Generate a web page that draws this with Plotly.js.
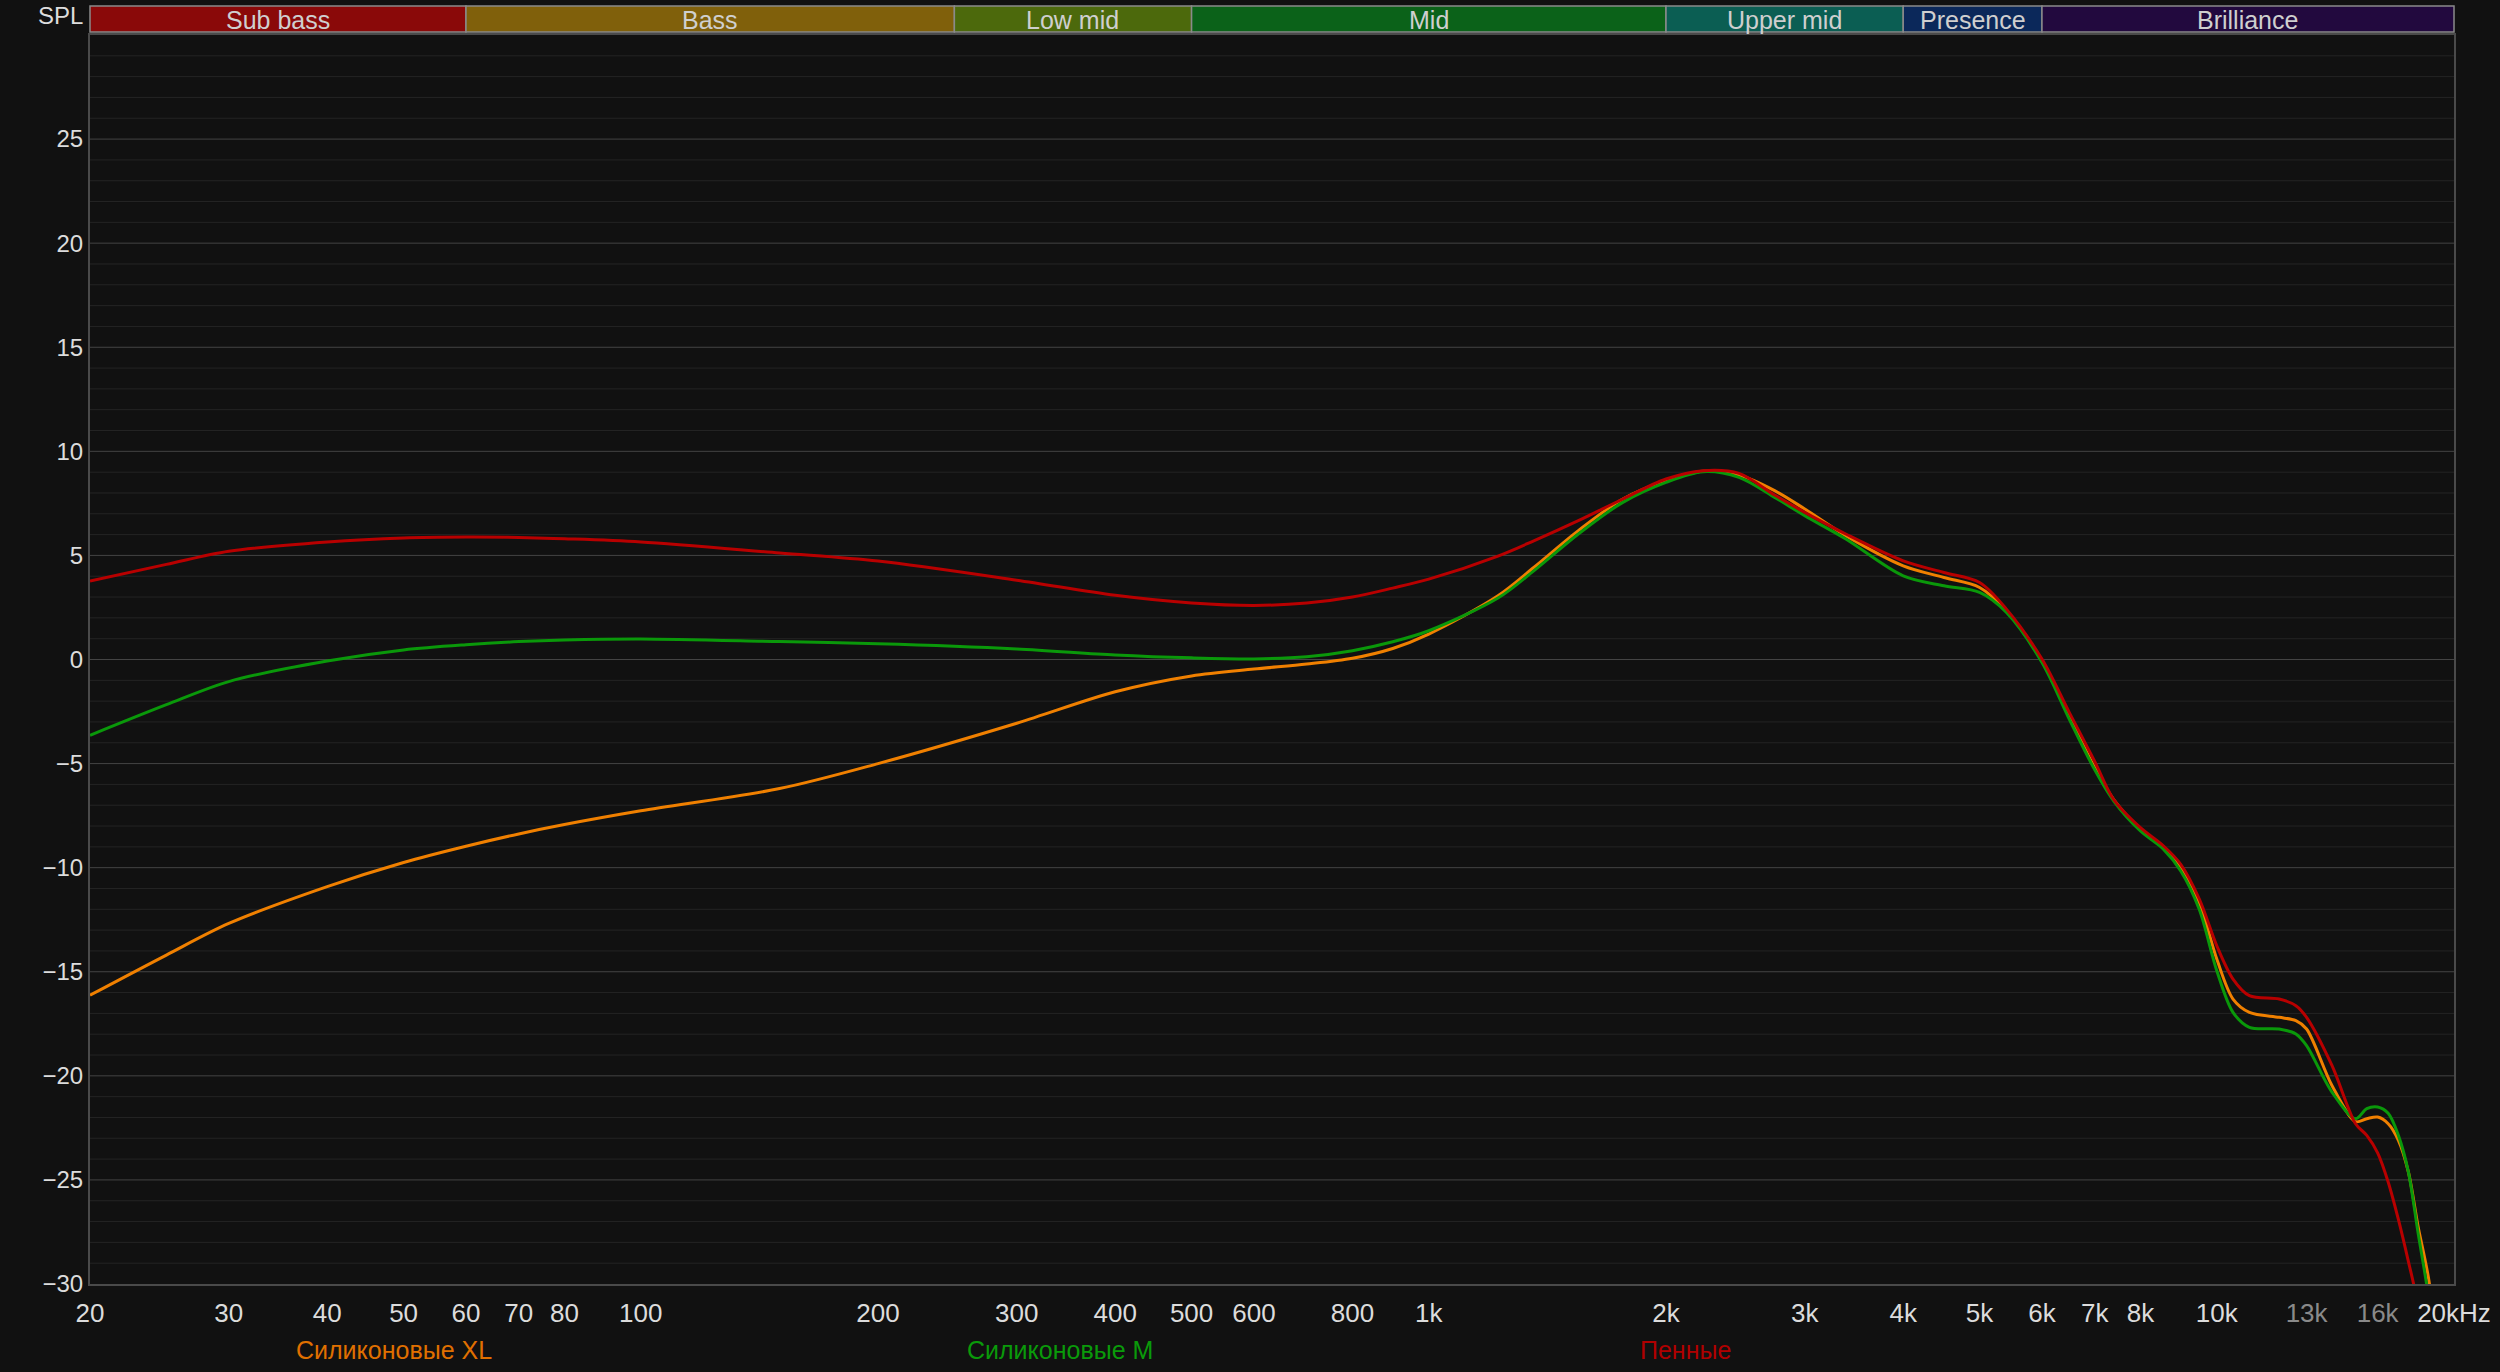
<!DOCTYPE html>
<html>
<head>
<meta charset="utf-8">
<script src="https://cdn.plot.ly/plotly-3.0.1.min.js"></script>
<style>
  html, body { margin: 0; padding: 0; background: #111111; }
  #chart { width: 2500px; height: 1372px; }
</style>
</head>
<body>
<div id="chart"></div>
<script>
// ---- Data ----
const freqs = [20, 25, 30, 40, 50, 60, 70, 80, 100, 150, 200, 300, 400, 500, 600, 700, 800, 900, 1000,
  1224, 1359, 1548, 1763, 2000, 2229, 2475, 2747, 3000, 3382, 4000, 4506, 5000, 5408, 6000, 6500, 7000, 7400,
  8000, 8560, 9000, 9500, 10000, 10485, 11000, 12000, 12600, 13000, 14000, 15000, 15500, 16000, 16500, 17000,
  17500, 18000, 18600, 20000];

const siliconeXL = [-16.13, -14.2, -12.68, -10.91, -9.75, -8.97, -8.38, -7.93, -7.27, -6.2, -5.0, -3.06, -1.55,
  -0.79, -0.46, -0.22, 0.06, 0.53, 1.22, 3.06, 4.42, 6.19, 7.71, 8.59, 9.04, 8.86, 8.11, 7.23, 5.95, 4.5, 3.94, 3.46,
  2.34, -0.06, -2.7, -5.2, -6.73, -8.16, -9.04, -10.0, -11.68, -14.39, -16.31, -16.95, -17.19, -17.35, -17.75,
  -20.46, -22.2, -22.06, -21.98, -22.3, -23.1, -24.6, -27.2, -29.9, -40];

const siliconeM = [-3.64, -2.17, -1.06, -0.07, 0.46, 0.71, 0.86, 0.94, 0.99, 0.86, 0.76, 0.51, 0.22, 0.08, 0.03,
  0.13, 0.42, 0.85, 1.38, 2.95, 4.26, 6.03, 7.55, 8.51, 9.02, 8.75, 7.79, 6.91, 5.79, 4.02, 3.54, 3.22, 2.26, -0.14,
  -2.87, -5.3, -6.8, -8.24, -9.12, -10.16, -12.0, -14.95, -16.95, -17.67, -17.75, -17.99, -18.55, -20.78, -22.06,
  -21.58, -21.5, -21.8, -22.86, -24.6, -27.5, -30.8, -40];

const foam = [3.77, 4.57, 5.2, 5.65, 5.84, 5.88, 5.86, 5.8, 5.65, 5.12, 4.73, 3.81, 3.09, 2.72, 2.6, 2.71, 3.0,
  3.43, 3.86, 4.97, 5.7, 6.67, 7.71, 8.67, 9.07, 8.94, 7.9, 7.07, 6.03, 4.74, 4.18, 3.7, 2.42, 0.02, -2.55, -4.9,
  -6.73, -8.08, -8.96, -9.84, -11.5, -13.75, -15.35, -16.15, -16.31, -16.63, -17.19, -19.5, -22.3, -22.86, -23.7,
  -25.1, -26.9, -28.9, -31.0, -35, -45];

const seriesNames = ['Силиконовые XL', 'Силиконовые M', 'Пенные'];
const seriesColors = ['#f08000', '#0a980a', '#b80000'];
const legendColors = ['#e07000', '#0a9a0a', '#b00000'];

const xTickVals = [20, 30, 40, 50, 60, 70, 80, 100, 200, 300, 400, 500, 600, 800, 1000, 2000, 3000, 4000, 5000,
  6000, 7000, 8000, 10000, 13000, 16000, 20000];
const xTickText = ['20', '30', '40', '50', '60', '70', '80', '100', '200', '300', '400', '500', '600', '800', '1k',
  '2k', '3k', '4k', '5k', '6k', '7k', '8k', '10k', '<span style="color:#8a8a8a">13k</span>',
  '<span style="color:#8a8a8a">16k</span>', '20kHz'];
const yTickVals = [-30, -25, -20, -15, -10, -5, 0, 5, 10, 15, 20, 25];

const bandNames = ['Sub bass', 'Bass', 'Low mid', 'Mid', 'Upper mid', 'Presence', 'Brilliance'];
const bandEdges = [20, 60, 250, 500, 2000, 4000, 6000, 20000];
const bandColors = ['#8a0909', '#80600b', '#4c690c', '#0b6219', '#0b5e53', '#0b285a', '#22093e'];

// ---- Geometry ----
const W = 2500, H = 1372;
const M = {l: 90, r: 46, t: 35, b: 88};
const plotH = H - M.t - M.b;
const plotW = W - M.l - M.r;
const bottomPx = H - M.b;
const pyPaper = p => (bottomPx - p) / plotH;
const pxPaper = p => (p - M.l) / plotW;
const L = Math.log10;
const fPaper = f => (L(f) - L(20)) / (L(20000) - L(20));

// ---- Grid shapes ----
const shapes = [];
function vline(f, color) {
  shapes.push({type: 'line', layer: 'below', xref: 'x', yref: 'paper', x0: L(f), x1: L(f), y0: 0, y1: 1,
    line: {color: color, width: 1}});
}
function hline(v, color) {
  shapes.push({type: 'line', layer: 'below', xref: 'paper', yref: 'y', x0: 0, x1: 1, y0: v, y1: v,
    line: {color: color, width: 1}});
}
for (let v = -29; v < 30; v++) if (v % 5 !== 0) hline(v, '#242424');
for (let v = -25; v < 30; v += 5) hline(v, '#444444');
const normalV = [], dimV = [], brightV = [100, 1000, 10000];
for (let d = 1; d <= 100; d *= 10) {
  for (let k = (d === 1 ? 3 : 2); k <= 9; k++) normalV.push(k * 10 * d);
}
for (let k = 11; k <= 19; k++) dimV.push(k * 1000);
dimV.forEach(f => vline(f, '#2b2b2b'));
normalV.forEach(f => vline(f, '#3e3e3e'));
brightV.forEach(f => vline(f, '#7a7a7a'));

// ---- Frequency bands on top (paper coords so they are not clipped) ----
const bandY0 = pyPaper(32), bandY1 = pyPaper(6);
const annotations = [];
for (let i = 0; i < bandNames.length; i++) {
  shapes.push({type: 'rect', layer: 'above', xref: 'paper', yref: 'paper',
    x0: fPaper(bandEdges[i]), x1: fPaper(bandEdges[i + 1]), y0: bandY0, y1: bandY1,
    fillcolor: bandColors[i], line: {color: '#8a8a8a', width: 1.5}});
}
for (let i = 0; i < bandNames.length; i++) {
  annotations.push({xref: 'paper', yref: 'paper', x: (fPaper(bandEdges[i]) + fPaper(bandEdges[i + 1])) / 2,
    y: pyPaper(20), yanchor: 'middle', xanchor: 'center', showarrow: false, text: bandNames[i],
    font: {family: 'Liberation Sans Narrow, Arial Narrow, Liberation Sans, sans-serif', size: 25, color: '#cfcfcf'}});
}
annotations.push({xref: 'paper', yref: 'paper', x: pxPaper(85), y: pyPaper(15), xanchor: 'right', yanchor: 'middle',
  showarrow: false, text: 'SPL', font: {family: 'Liberation Sans, Arial, sans-serif', size: 24, color: '#dddddd'}});

// ---- Legend as colored labels under the axis ----
const legendX = [394, 1060, 1685];
for (let i = 0; i < 3; i++) {
  annotations.push({xref: 'paper', yref: 'paper', x: pxPaper(legendX[i]), y: pyPaper(1350), xanchor: 'center',
    yanchor: 'middle', showarrow: false, text: seriesNames[i],
    font: {family: 'Liberation Sans Narrow, Arial Narrow, Liberation Sans, sans-serif', size: 25, color: legendColors[i]}});
}

const ys = [siliconeXL, siliconeM, foam];
const traces = ys.map((y, i) => ({
  type: 'scatter', mode: 'lines', x: freqs, y: y, name: seriesNames[i], showlegend: false,
  line: {color: seriesColors[i], width: 3, shape: 'spline', smoothing: 0.9}
}));

const layout = {
  width: W, height: H,
  paper_bgcolor: '#111111', plot_bgcolor: '#111111',
  margin: M,
  showlegend: false,
  xaxis: {type: 'log', range: [L(20), L(20000)], tickmode: 'array', tickvals: xTickVals, ticktext: xTickText,
    showgrid: false, zeroline: false, ticks: '', showline: true, mirror: true, linecolor: '#4a4a4a', linewidth: 2,
    ticklabelstandoff: 5,
    tickfont: {family: 'Liberation Sans Narrow, Arial Narrow, Liberation Sans, sans-serif', size: 26, color: '#dcdcdc'}},
  yaxis: {range: [-30, 30], tickmode: 'array', tickvals: yTickVals, showgrid: false, zeroline: false, ticks: '',
    showline: true, mirror: true, linecolor: '#4a4a4a', linewidth: 2, ticklabelstandoff: 0,
    tickfont: {family: 'Liberation Sans, Arial, sans-serif', size: 24, color: '#dcdcdc'}},
  shapes: shapes,
  annotations: annotations
};

Plotly.newPlot('chart', traces, layout, {displayModeBar: false, staticPlot: true});
</script>
</body>
</html>
